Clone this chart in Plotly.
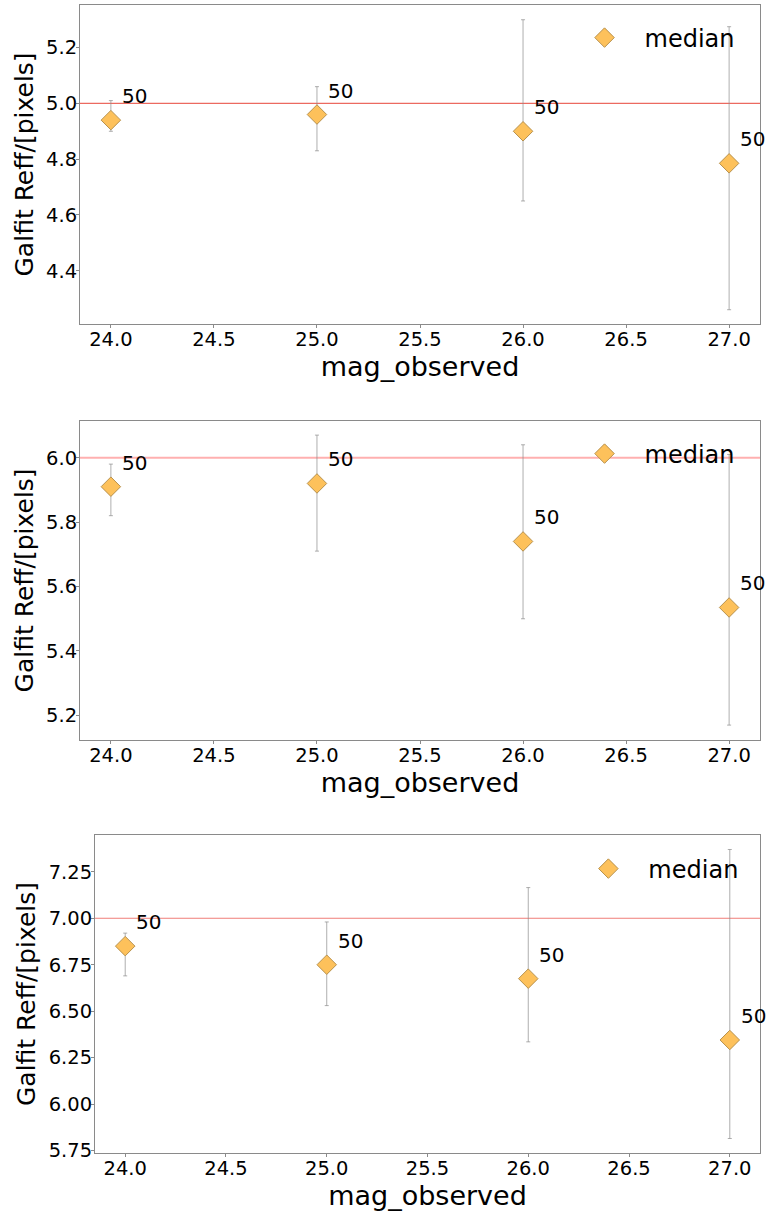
import plotly.graph_objects as go

# ---- data ----
mags = [24.0, 25.0, 26.0, 27.0]
counts = ["50", "50", "50", "50"]

med1 = [4.94, 4.96, 4.90, 4.785]
lo1 = [4.90, 4.83, 4.65, 4.26]
hi1 = [5.01, 5.06, 5.30, 5.275]
ref1 = 5.0

med2 = [5.91, 5.92, 5.74, 5.535]
lo2 = [5.82, 5.71, 5.50, 5.17]
hi2 = [5.98, 6.07, 6.04, 6.01]
ref2 = 6.0

med3 = [6.85, 6.75, 6.675, 6.345]
lo3 = [6.69, 6.53, 6.335, 5.815]
hi3 = [6.92, 6.98, 7.165, 7.37]
ref3 = 7.0

xticks = [24.0, 24.5, 25.0, 25.5, 26.0, 26.5, 27.0]
yticks1 = [4.4, 4.6, 4.8, 5.0, 5.2]
yticks2 = [5.2, 5.4, 5.6, 5.8, 6.0]
yticks3 = [5.75, 6.00, 6.25, 6.50, 6.75, 7.00, 7.25]

panels = [
    dict(med=med1, lo=lo1, hi=hi1, ref=ref1, yt=yticks1, fmt=".1f", yr=[4.209, 5.353],
         xd=[0.1044, 0.9922], yd=[0.7325, 0.9959], refc="#EC6A60", refw=1.2,
         leg_x=0.737, leg_y=1 - 38 / 1211),
    dict(med=med2, lo=lo2, hi=hi2, ref=ref2, yt=yticks2, fmt=".1f", yr=[5.124, 6.114],
         xd=[0.1044, 0.9922], yd=[0.3890, 0.6524], refc="#FFB0B0", refw=2,
         leg_x=0.737, leg_y=1 - 454 / 1211),
    dict(med=med3, lo=lo3, hi=hi3, ref=ref3, yt=yticks3, fmt=".2f", yr=[5.737, 7.448],
         xd=[0.1240, 0.9922], yd=[0.0479, 0.3105], refc="#F07E78", refw=1,
         leg_x=0.742, leg_y=1 - 869 / 1211),
]

FONT = "DejaVu Sans"
fig = go.Figure()
layout = dict(
    width=766, height=1211,
    margin=dict(l=0, r=0, t=0, b=0),
    paper_bgcolor="white", plot_bgcolor="white",
    font=dict(family=FONT, color="black"),
    showlegend=True,
)
shapes = []
annotations = []

for i, p in enumerate(panels, start=1):
    xa = "x" if i == 1 else f"x{i}"
    ya = "y" if i == 1 else f"y{i}"
    lg = "legend" if i == 1 else f"legend{i}"
    plus = [h - m for h, m in zip(p["hi"], p["med"])]
    minus = [m - l for m, l in zip(p["med"], p["lo"])]
    fig.add_trace(go.Scatter(
        x=mags, y=p["med"], mode="markers", name="median",
        xaxis=xa, yaxis=ya, legend=lg,
        marker=dict(symbol="diamond", size=15, color="#FDC15B",
                    line=dict(color="#B8924E", width=1)),
        error_y=dict(type="data", symmetric=False, array=plus, arrayminus=minus,
                     color="rgba(140,140,140,0.7)", thickness=1, width=2),
    ))
    axis_common = dict(
        showline=True, mirror=True, linecolor="#8a8a8a", linewidth=1,
        ticks="outside", ticklen=3, tickcolor="#8a8a8a", showgrid=False,
        zeroline=False, automargin=False, tickfont=dict(size=19.5, family=FONT),
        ticklabelstandoff=-5,
    )
    layout["xaxis" if i == 1 else f"xaxis{i}"] = dict(
        axis_common, domain=p["xd"], range=[23.85, 27.15], tickvals=xticks,
        tickformat=".1f", anchor=ya,
        title=dict(text="mag_observed", font=dict(size=27, family=FONT), standoff=0),
    )
    layout["yaxis" if i == 1 else f"yaxis{i}"] = dict(
        axis_common, domain=p["yd"], range=p["yr"], tickvals=p["yt"],
        tickformat=p["fmt"], anchor=xa,
        title=dict(text="Galfit Reff/[pixels]", font=dict(size=25, family=FONT), standoff=5),
    )
    layout[lg] = dict(
        x=p["leg_x"], y=p["leg_y"], xanchor="left", yanchor="middle",
        bgcolor="rgba(0,0,0,0)", borderwidth=0, itemwidth=70,
        font=dict(size=24, family=FONT),
    )
    shapes.append(dict(
        type="line", xref=f"{xa} domain", yref=ya, x0=0, x1=1, y0=p["ref"], y1=p["ref"],
        line=dict(color=p["refc"], width=p["refw"]), layer="below",
    ))
    for xv, yv, t in zip(mags, p["med"], counts):
        annotations.append(dict(
            x=xv, y=yv, xref=xa, yref=ya, text=t, showarrow=False,
            xanchor="left", yanchor="middle", xshift=9, yshift=24,
            font=dict(size=20, family=FONT),
        ))

layout["shapes"] = shapes
layout["annotations"] = annotations
fig.update_layout(**layout)
fig.write_html("out.html")
